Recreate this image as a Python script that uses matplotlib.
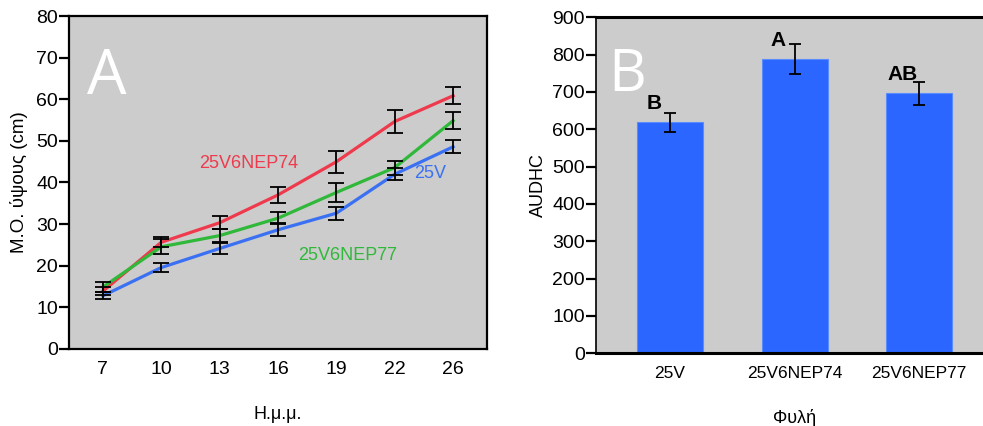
import matplotlib
matplotlib.use("Agg")
import matplotlib.pyplot as plt
import numpy as np

plt.rcParams['font.family'] = ['Liberation Sans', 'DejaVu Sans']

# panel A: mean height per time point
days = ['7', '10', '13', '16', '19', '22', '26']
h_25v = [12.7, 19.5, 24.1, 28.6, 32.6, 42.0, 48.6]
e_25v = [0.8, 1.0, 1.3, 1.6, 1.6, 1.5, 1.6]
h_nep74 = [13.8, 25.6, 30.3, 37.0, 45.0, 54.7, 60.9]
e_nep74 = [1.0, 1.2, 1.6, 1.9, 2.7, 2.7, 2.1]
h_nep77 = [14.8, 24.5, 27.2, 31.4, 37.6, 43.6, 54.9]
e_nep77 = [1.2, 1.8, 1.5, 1.5, 2.3, 1.7, 2.1]

# panel B: AUDHC per line
lines = ['25V', '25V6NEP74', '25V6NEP77']
audhc = [619, 788, 697]
audhc_err = [25, 40, 31]
groups = ['B', 'A', 'AB']

red = '#ee3a4c'
green = '#30b83a'
blue = '#3a70f2'
bg = '#cccccc'

fig = plt.figure(figsize=(9.83, 4.26), dpi=100)
ax1 = fig.add_axes([0.0702, 0.1819, 0.4252, 0.7794])
ax2 = fig.add_axes([0.6063, 0.1707, 0.4049, 0.7887])

x = np.arange(len(days))
for y, e, c in [(h_nep74, e_nep74, red), (h_nep77, e_nep77, green), (h_25v, e_25v, blue)]:
    ax1.plot(x, y, color=c, lw=2.3, zorder=3)
for y, e in [(h_nep74, e_nep74), (h_nep77, e_nep77), (h_25v, e_25v)]:
    ax1.errorbar(x, y, yerr=e, fmt='none', ecolor='black', elinewidth=1.3,
                 capsize=5.5, capthick=1.3, zorder=4)

ax1.text(2.5, 44.5, '25V6NEP74', color=red, fontsize=13, ha='center', va='center')
ax1.text(4.2, 22.5, '25V6NEP77', color=green, fontsize=13, ha='center', va='center')
ax1.text(5.6, 42.2, '25V', color=blue, fontsize=13, ha='center', va='center')
ax1.text(0.091, 0.815, 'A', transform=ax1.transAxes, color='white', fontsize=45,
         family='Open Sans', ha='center', va='center')

ax1.set_xlim(-0.58, 6.58)
ax1.set_ylim(0, 80)
ax1.set_xticks(x)
ax1.set_xticklabels(days)
ax1.set_yticks(range(0, 81, 10))
ax1.set_facecolor(bg)
for s in ax1.spines.values():
    s.set_linewidth(1.6)
ax1.tick_params(axis='y', length=7, width=1.6, labelsize=14, pad=1)
ax1.tick_params(axis='x', length=0, labelsize=14, pad=9)
ax1.set_ylabel('Μ.Ο. ύψους (cm)', fontsize=13.5, labelpad=6)
ax1.set_xlabel('Η.μ.μ.', fontsize=13, labelpad=20)

xb = np.arange(len(lines))
ax2.bar(xb, audhc, width=0.53, color='#2a66ff', edgecolor='#5a8cff', lw=0.8, zorder=2)
ax2.errorbar(xb, audhc, yerr=audhc_err, fmt='none', ecolor='black', elinewidth=1.3,
             capsize=4.5, capthick=1.3, zorder=3)
for xi, v, g in zip(xb, audhc, groups):
    ax2.text(xi - 0.13, v + 50, g, fontsize=15, fontweight='bold', ha='center', va='center')
ax2.text(0.078, 0.825, 'B', transform=ax2.transAxes, color='white', fontsize=42,
         family='Open Sans', ha='center', va='center')

ax2.set_xlim(-0.594, 2.6)
ax2.set_ylim(0, 900)
ax2.set_yticks(range(0, 901, 100))
ax2.set_xticks(xb)
ax2.set_xticklabels(lines)
ax2.set_facecolor(bg)
ax2.spines['top'].set_linewidth(2.2)
ax2.spines['bottom'].set_linewidth(2.2)
ax2.spines['left'].set_linewidth(1.2)
ax2.spines['right'].set_visible(False)
ax2.tick_params(axis='y', length=7, width=1.6, labelsize=14, pad=1)
ax2.tick_params(axis='x', length=0, labelsize=12.5, pad=9)
ax2.set_ylabel('AUDHC', fontsize=13, labelpad=4)
ax2.set_xlabel('Φυλή', fontsize=13, labelpad=20)

fig.savefig('out.png', dpi=100)
